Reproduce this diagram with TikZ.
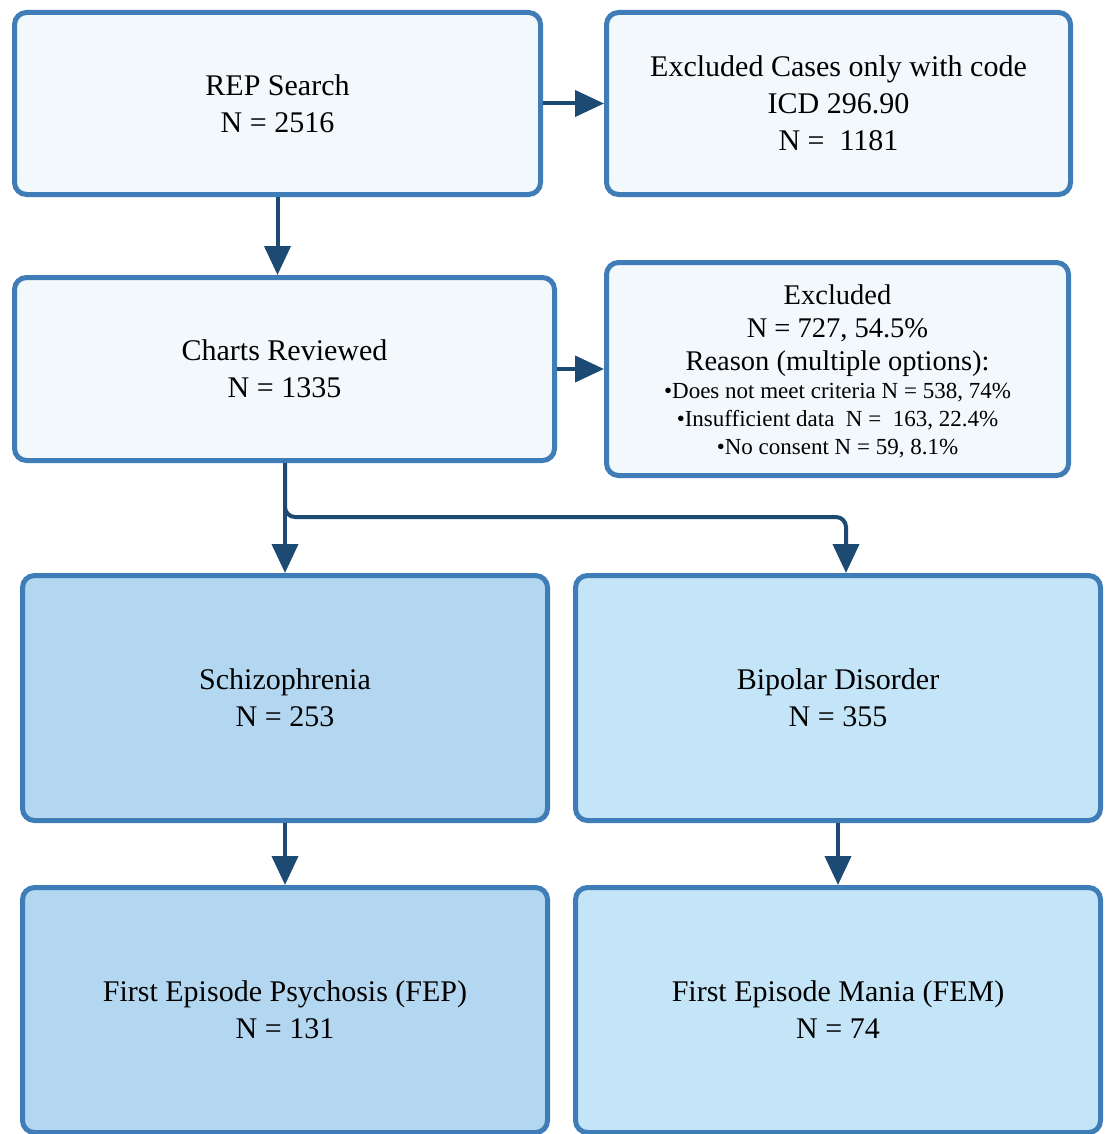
\documentclass[tikz,border=0pt]{standalone}
\usepackage{fontspec}
\setmainfont{Liberation Serif}
\usetikzlibrary{arrows.meta}
\definecolor{bordc}{HTML}{3F7DB8}
\definecolor{arrc}{HTML}{1D4A72}
\definecolor{topfill}{HTML}{F3F8FD}
\definecolor{schfill}{HTML}{B4D7F1}
\definecolor{bipfill}{HTML}{C3E5F7}
\tikzset{
  box/.style={draw=bordc, line width=5pt, rounded corners=12pt, inner sep=0pt, align=center,
    font=\fontsize{30}{37}\selectfont},
  topbox/.style={box, fill=topfill},
  schbox/.style={box, fill=schfill},
  bipbox/.style={box, fill=bipfill},
  arr/.style={draw=arrc, line width=4pt, -{Triangle[length=29pt,width=26pt]}},
  small/.style={align=center, inner sep=0pt, font=\fontsize{23}{28}\selectfont},
  mid/.style={align=center, inner sep=0pt, font=\fontsize{28.5}{33}\selectfont}
}
\begin{document}
\begin{tikzpicture}[x=1pt,y=-1pt]
\useasboundingbox[fill=white] (0,0) rectangle (1105,1134);
\node[topbox, minimum width=526pt, minimum height=182pt] (rep) at (277.5,103.5) {REP Search\\N = 2516};
\node[topbox, minimum width=464pt, minimum height=182pt] (exc1) at (838.5,103.5) {Excluded Cases only with code\\ICD 296.90\\N =\ \ 1181};
\node[topbox, minimum width=540pt, minimum height=183pt] (charts) at (284.5,369) {Charts Reviewed\\N = 1335};
\node[topbox, minimum width=462pt, minimum height=213pt] (exc2) at (837.5,369) {};
\node[mid] (exc2a) at (837.5,331) {Excluded\\N = 727, 54.5\%\\Reason (multiple options):};
\node[small] (exc2b) at (837.5,421) {•Does not meet criteria N = 538, 74\%\\•Insufficient data\ \ N =\ \ 163, 22.4\%\\•No consent N = 59, 8.1\%};
\node[schbox, minimum width=525pt, minimum height=245pt] (schiz) at (285,698) {Schizophrenia\\N = 253};
\node[bipbox, minimum width=525pt, minimum height=245pt] (bip) at (838,698) {Bipolar Disorder\\N = 355};
\node[schbox, minimum width=525pt, minimum height=245pt] (fep) at (285,1010) {First Episode Psychosis (FEP)\\N = 131};
\node[bipbox, minimum width=525pt, minimum height=245pt] (fem) at (838,1010) {First Episode Mania (FEM)\\N = 74};
\coordinate (k) at (846,517);
\draw[arr] (rep.east) -- (exc1.west);
\draw[arr] (rep.south) -- (rep.south |- charts.north);
\draw[arr] (charts.east) -- (exc2.west);
\draw[arr] (charts.south -| schiz.north) -- (schiz.north);
\draw[arr, rounded corners=10pt] (charts.south -| schiz.north) |- (k) -- (k |- bip.north);
\draw[arr] (schiz.south) -- (fep.north);
\draw[arr] (bip.south) -- (fem.north);
\end{tikzpicture}
\end{document}
